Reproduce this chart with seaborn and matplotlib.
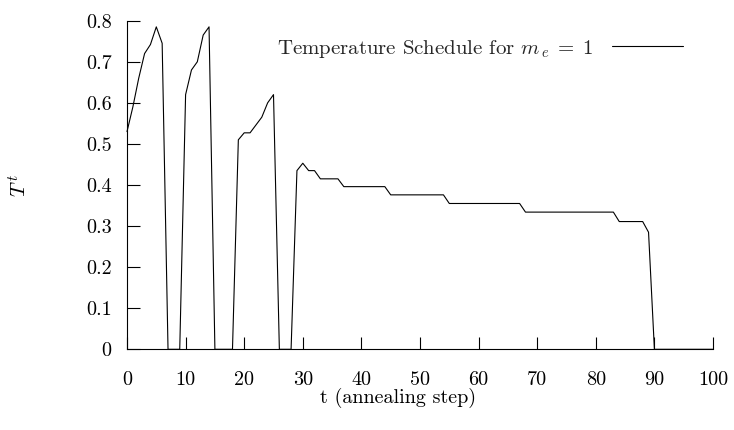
import matplotlib
matplotlib.use("Agg")
import matplotlib.pyplot as plt
import seaborn as sns
import pandas as pd
import numpy as np

# ---- data ----
steps = list(range(0, 101))
temperature = [
    0.530, 0.590, 0.660, 0.720, 0.742, 0.785, 0.745,          # 0-6
    0.0, 0.0, 0.0,                                            # 7-9
    0.620, 0.680, 0.700, 0.765, 0.785,                        # 10-14
    0.0, 0.0, 0.0, 0.0,                                       # 15-18
    0.510, 0.527, 0.527, 0.546, 0.565, 0.600, 0.620,          # 19-25
    0.0, 0.0, 0.0,                                            # 26-28
    0.435, 0.453, 0.435, 0.435, 0.415, 0.415, 0.415, 0.415,   # 29-36
    0.396, 0.396, 0.396, 0.396, 0.396, 0.396, 0.396, 0.396,   # 37-44
    0.376, 0.376, 0.376, 0.376, 0.376, 0.376, 0.376, 0.376, 0.376, 0.376,  # 45-54
    0.355, 0.355, 0.355, 0.355, 0.355, 0.355, 0.355, 0.355, 0.355, 0.355,
    0.355, 0.355, 0.355,                                      # 55-67
    0.334, 0.334, 0.334, 0.334, 0.334, 0.334, 0.334, 0.334, 0.334, 0.334,
    0.334, 0.334, 0.334, 0.334, 0.334, 0.334,                 # 68-83
    0.311, 0.311, 0.311, 0.311, 0.311,                        # 84-88
    0.285,                                                    # 89
    0.0, 0.0, 0.0, 0.0, 0.0, 0.0, 0.0, 0.0, 0.0, 0.0, 0.0,    # 90-100
]
x_ticks = [0, 10, 20, 30, 40, 50, 60, 70, 80, 90, 100]
y_ticks = [0, 0.1, 0.2, 0.3, 0.4, 0.5, 0.6, 0.7, 0.8]
y_tick_labels = ["0", "0.1", "0.2", "0.3", "0.4", "0.5", "0.6", "0.7", "0.8"]
series_label = r"Temperature Schedule for $m_{\,e} \;=\; 1$"

df = pd.DataFrame({"t": steps, "T": temperature})

sns.set_theme(style="white")
plt.rcParams["font.family"] = ["cmr10", "DejaVu Serif"]
plt.rcParams["mathtext.fontset"] = "cm"
plt.rcParams["axes.formatter.use_mathtext"] = True

fig = plt.figure(figsize=(7.34, 4.30), dpi=100)
ax = fig.add_axes([127 / 734, 1 - 349.3 / 430, (713 - 127) / 734, (349.3 - 20.7) / 430])

sns.lineplot(data=df, x="t", y="T", ax=ax, color="black", linewidth=0.8,
             label=series_label, clip_on=False)

ax.set_xlim(0, 100)
ax.set_ylim(0, 0.8)
ax.set_xticks(x_ticks)
ax.set_xticklabels([str(v) for v in x_ticks])
ax.set_yticks(y_ticks)
ax.set_yticklabels(y_tick_labels)

for s in ["top", "right"]:
    ax.spines[s].set_visible(False)
for s in ["left", "bottom"]:
    ax.spines[s].set_color("black")
    ax.spines[s].set_linewidth(0.8)

ax.tick_params(axis="x", which="major", bottom=True, top=False, direction="in",
               length=9, width=0.8, color="black",
               pad=15.5, labelsize=14.5, labelcolor="black")
ax.tick_params(axis="y", which="major", left=True, right=False, direction="in",
               length=9, width=0.8, color="black",
               pad=11, labelsize=14.5, labelcolor="black")

ax.set_xlabel("t (annealing step)", fontsize=14.5, color="black")
ax.set_ylabel(r"$T^{\,t}$", fontsize=15, color="black")
ax.xaxis.set_label_coords((398 - 127) / 586, (349.3 - 387.5) / 328.6)
ax.yaxis.set_label_coords((30 - 127) / 586, 0.5)

leg = ax.legend(loc="center right", bbox_to_anchor=(683 / 734, 1 - 48.5 / 430),
                bbox_transform=fig.transFigure, frameon=False, markerfirst=False,
                fontsize=15, handlelength=3.4, handletextpad=0.9,
                borderpad=0, borderaxespad=0)
for line in leg.get_lines():
    line.set_linewidth(0.8)

fig.savefig("out.png", dpi=100)
